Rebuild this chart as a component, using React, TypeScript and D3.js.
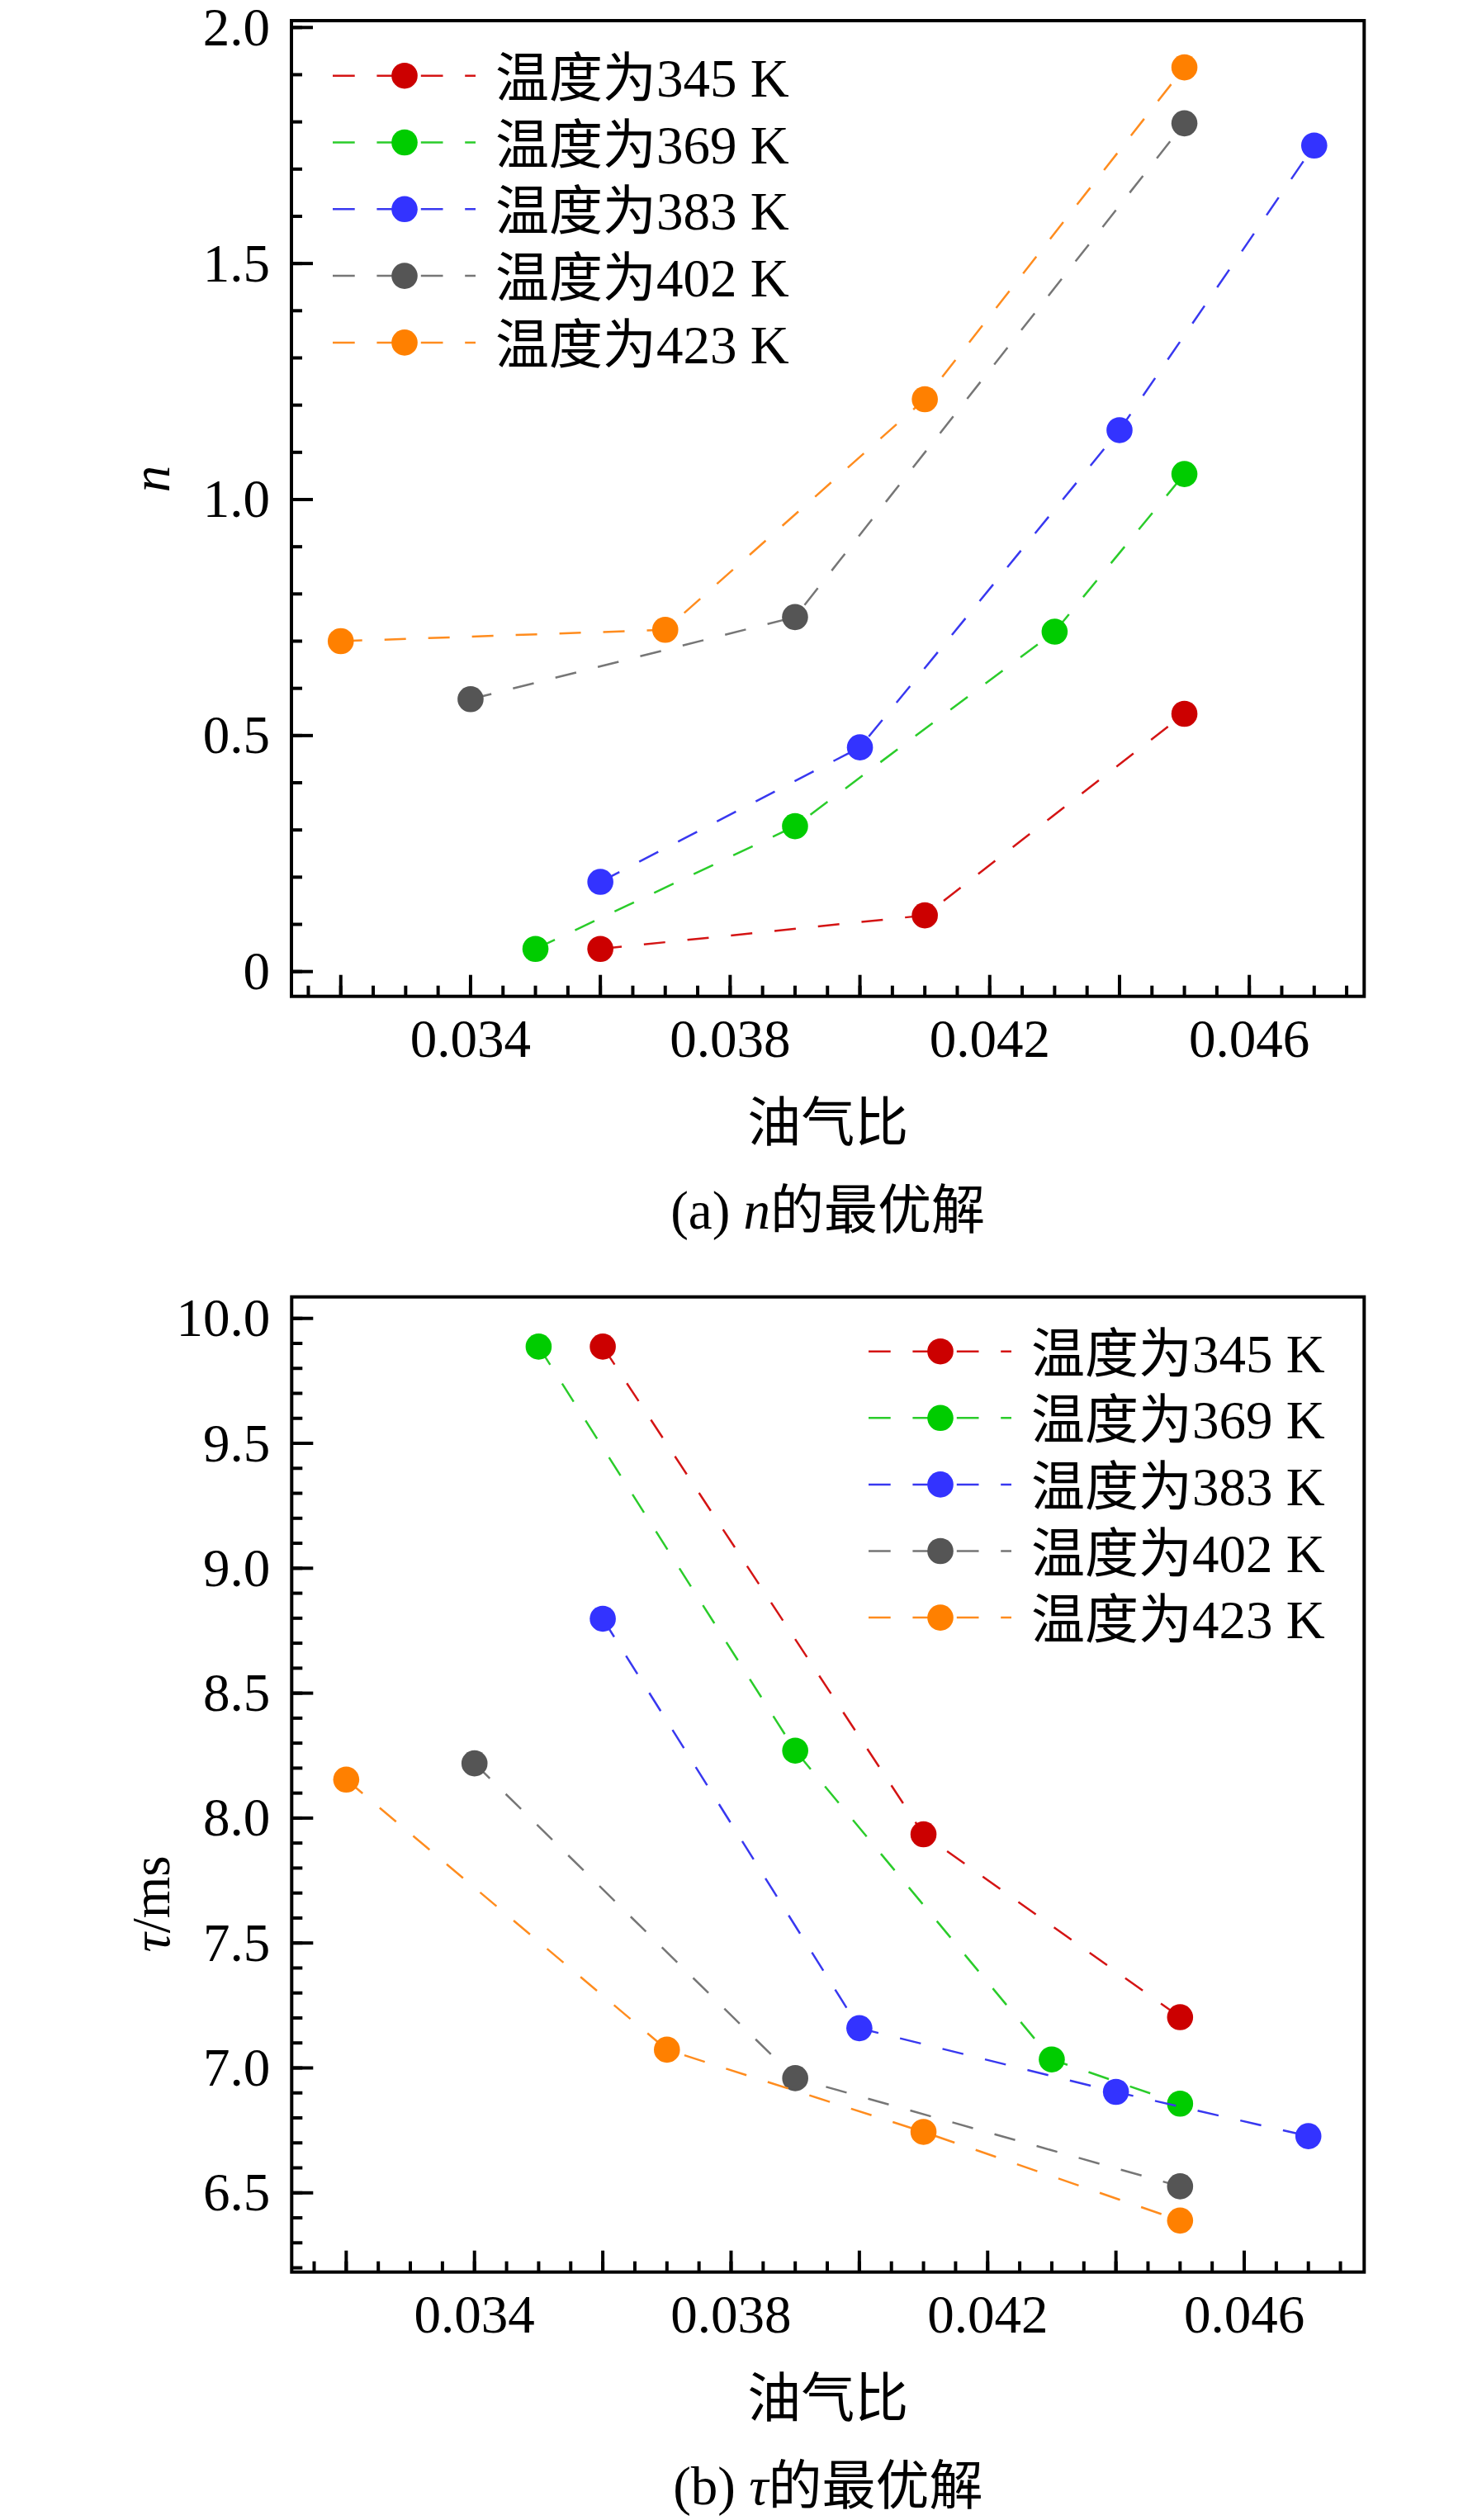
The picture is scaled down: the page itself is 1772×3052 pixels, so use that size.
import React from "react";
import * as d3 from "d3";

// ---------- data ----------
const legendNames = ["温度为345 K", "温度为369 K", "温度为383 K", "温度为402 K", "温度为423 K"];
const markerColors = ["#CC0000", "#00CC00", "#3333FF", "#555555", "#FF8000"];
const lineColors = ["#D41414", "#2ACC2A", "#3838F0", "#767676", "#FF8C1E"];

// (a) n optimum : [oil-gas ratio, n]
const n345 = [[0.036, 0.048], [0.041, 0.119], [0.045, 0.546]];
const n369 = [[0.035, 0.048], [0.039, 0.308], [0.043, 0.72], [0.045, 1.054]];
const n383 = [[0.036, 0.19], [0.040, 0.475], [0.044, 1.147], [0.047, 1.75]];
const n402 = [[0.034, 0.577], [0.039, 0.751], [0.045, 1.797]];
const n423 = [[0.032, 0.7], [0.037, 0.724], [0.041, 1.2125], [0.045, 1.9155]];

// (b) tau optimum : [oil-gas ratio, tau/ms]
const t345 = [[0.036, 9.887], [0.041, 7.935], [0.045, 7.203]];
const t369 = [[0.035, 9.887], [0.039, 8.27], [0.043, 7.034], [0.045, 6.857]];
const t383 = [[0.036, 8.798], [0.040, 7.159], [0.044, 6.904], [0.047, 6.727]];
const t402 = [[0.034, 8.219], [0.039, 6.959], [0.045, 6.526]];
const t423 = [[0.032, 8.154], [0.037, 7.073], [0.041, 6.744], [0.045, 6.389]];

const xMajorTicks = [0.032, 0.034, 0.036, 0.038, 0.040, 0.042, 0.044, 0.046];
const xLabelTicks = [0.034, 0.038, 0.042, 0.046];
const xMinorTicks = d3.range(63, 96).map((i) => i * 0.0005);

const nMajorTicks = [0, 0.5, 1.0, 1.5, 2.0];
const nMinorTicks = d3.range(0, 21).map((i) => i * 0.1);
const tMajorTicks = [6.5, 7.0, 7.5, 8.0, 8.5, 9.0, 9.5, 10.0];
const tMinorTicks = d3.range(62, 101).map((i) => i * 0.1);

const FONT = "'Liberation Serif', 'Times New Roman', 'Noto Sans CJK SC', serif";
const FS = 65;

type Pt = number[];

interface PanelProps {
  left: number; right: number; top: number; bottom: number;
  xDomain: [number, number]; yDomain: [number, number];
  yMajor: number[]; yMinor: number[]; yFmt: (v: number) => string;
  series: Pt[][];
  legendX: number; legendRow0: number; legendGap: number;
  yLabel: React.ReactNode; yLabelY: number;
  title: React.ReactNode;
}

function Panel(p: PanelProps) {
  const x = d3.scaleLinear().domain(p.xDomain).range([p.left, p.right]);
  const y = d3.scaleLinear().domain(p.yDomain).range([p.bottom, p.top]);
  const line = d3.line<Pt>().x((d) => x(d[0])).y((d) => y(d[1]));
  const cx = (p.left + p.right) / 2;
  const majorLen = 26, minorLen = 13;
  return (
    <g>
      {/* data */}
      {p.series.map((s, i) => (
        <g key={"s" + i}>
          <path d={line(s) || ""} fill="none" stroke={lineColors[i]} strokeWidth={2.5}
            strokeDasharray="26 27" />
          {s.map((d, j) => (
            <circle key={j} cx={x(d[0])} cy={y(d[1])} r={15.8} fill={markerColors[i]} />
          ))}
        </g>
      ))}
      {/* frame */}
      <rect x={p.left} y={p.top} width={p.right - p.left} height={p.bottom - p.top}
        fill="none" stroke="#000" strokeWidth={4} />
      {/* y ticks */}
      {p.yMinor.map((v, i) => (
        <line key={"ym" + i} x1={p.left} x2={p.left + minorLen} y1={y(v)} y2={y(v)} stroke="#000" strokeWidth={4} />
      ))}
      {p.yMajor.map((v, i) => (
        <g key={"yM" + i}>
          <line x1={p.left} x2={p.left + majorLen} y1={y(v)} y2={y(v)} stroke="#000" strokeWidth={4} />
          <text x={p.left - 26} y={y(v) + 21.5} textAnchor="end" fontSize={FS} fontFamily={FONT}>{p.yFmt(v)}</text>
        </g>
      ))}
      {/* x ticks */}
      {xMinorTicks.map((v, i) => (
        <line key={"xm" + i} x1={x(v)} x2={x(v)} y1={p.bottom} y2={p.bottom - minorLen} stroke="#000" strokeWidth={4} />
      ))}
      {xMajorTicks.map((v, i) => (
        <line key={"xM" + i} x1={x(v)} x2={x(v)} y1={p.bottom} y2={p.bottom - majorLen} stroke="#000" strokeWidth={4} />
      ))}
      {xLabelTicks.map((v, i) => (
        <text key={"xl" + i} x={x(v)} y={p.bottom + 73} textAnchor="middle" fontSize={FS} fontFamily={FONT}>{v.toFixed(3)}</text>
      ))}
      {/* axis labels */}
      <text x={cx} y={p.bottom + 175} textAnchor="middle" fontSize={FS} fontFamily={FONT}>油气比</text>
      <text transform={`translate(205,${p.yLabelY}) rotate(-90)`} textAnchor="middle" fontSize={FS} fontFamily={FONT}>{p.yLabel}</text>
      <text x={cx} y={p.bottom + 281} textAnchor="middle" fontSize={FS} fontFamily={FONT}>{p.title}</text>
      {/* legend */}
      {legendNames.map((name, i) => {
        const ry = p.legendRow0 + i * p.legendGap;
        return (
          <g key={"lg" + i}>
            <line x1={p.legendX} x2={p.legendX + 173} y1={ry} y2={ry} stroke={lineColors[i]} strokeWidth={2.5} strokeDasharray="26.7 26.7" />
            <circle cx={p.legendX + 87} cy={ry} r={15.8} fill={markerColors[i]} />
            <text x={p.legendX + 197} y={ry + 25} fontSize={FS} fontFamily={FONT}>{name}</text>
          </g>
        );
      })}
    </g>
  );
}

export default function App() {
  return (
    <svg width={1772} height={3052} style={{ position: "absolute", left: 0, top: 0, background: "#fff" }}>
      <rect x={0} y={0} width={1772} height={3052} fill="#fff" />
      <Panel
        left={353} right={1652.3} top={25} bottom={1206.7}
        xDomain={[0.03124, 0.04777]} yDomain={[-0.0525, 2.0145]}
        yMajor={nMajorTicks} yMinor={nMinorTicks}
        yFmt={(v) => (v === 0 ? "0" : v.toFixed(1))}
        series={[n345, n369, n383, n402, n423]}
        legendX={403} legendRow0={91.7} legendGap={80.8}
        yLabel={<tspan fontStyle="italic">n</tspan>} yLabelY={580}
        title={<><tspan>(a) </tspan><tspan fontStyle="italic">n</tspan><tspan>的最优解</tspan></>}
      />
      <Panel
        left={353.3} right={1652.3} top={1570.7} bottom={2751.7}
        xDomain={[0.03115, 0.04787]} yDomain={[6.183, 10.086]}
        yMajor={tMajorTicks} yMinor={tMinorTicks}
        yFmt={(v) => v.toFixed(1)}
        series={[t345, t369, t383, t402, t423]}
        legendX={1052} legendRow0={1636.7} legendGap={80.6}
        yLabel={<><tspan fontStyle="italic">τ</tspan><tspan>/ms</tspan></>} yLabelY={2306}
        title={<><tspan>(b) </tspan><tspan fontStyle="italic">τ</tspan><tspan>的最优解</tspan></>}
      />
    </svg>
  );
}
